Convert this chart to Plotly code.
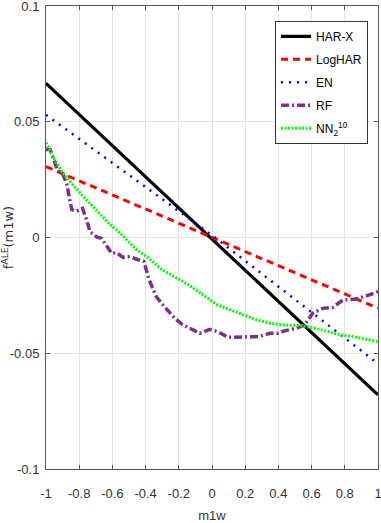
import plotly.graph_objects as go

# Dane
x_lin = [-1.0, 0.0, 1.0]
har_x = [0.0666, -0.0005, -0.068]
log_har = [0.0306, 0.0, -0.0305]
en = [0.053, 0.001, -0.0545]

x_rf = [-1.0, -0.975, -0.93, -0.9, -0.875, -0.845, -0.815, -0.78, -0.755, -0.735,
        -0.695, -0.665, -0.605, -0.575, -0.535, -0.495, -0.45, -0.41, -0.38, -0.335,
        -0.295, -0.255, -0.225, -0.18, -0.134, -0.074, -0.014, 0.036, 0.096, 0.186,
        0.287, 0.347, 0.397, 0.437, 0.508, 0.557, 0.607, 0.667, 0.728, 0.788,
        0.868, 0.948, 1.0]
rf = [0.038, 0.038, 0.029, 0.0277, 0.023, 0.012, 0.0114, 0.0126, 0.0076, 0.0025,
      0.0003, -0.0004, -0.0068, -0.0066, -0.0086, -0.0082, -0.0095, -0.0104, -0.018, -0.0256,
      -0.0292, -0.0327, -0.0349, -0.0375, -0.0392, -0.0414, -0.0397, -0.0407, -0.0431, -0.0428,
      -0.0428, -0.0414, -0.0414, -0.0403, -0.0392, -0.0378, -0.0327, -0.0306, -0.0302, -0.027,
      -0.0266, -0.0248, -0.0234]

x_nn = [-1.0, -0.95, -0.9, -0.84, -0.78, -0.7, -0.62, -0.54, -0.46, -0.38,
        -0.3, -0.2, -0.13, -0.05, 0.03, 0.1, 0.19, 0.27, 0.35, 0.43,
        0.53, 0.61, 0.69, 0.77, 0.85, 0.93, 1.0]
nn = [0.041, 0.034, 0.028, 0.023, 0.018, 0.012, 0.006, 0.001, -0.005, -0.009,
      -0.014, -0.018, -0.021, -0.025, -0.029, -0.031, -0.0335, -0.0356, -0.037, -0.0378,
      -0.038, -0.039, -0.0405, -0.042, -0.0428, -0.044, -0.045]

x_ticks = [-1, -0.8, -0.6, -0.4, -0.2, 0, 0.2, 0.4, 0.6, 0.8, 1]
x_labels = ['-1', '-0.8', '-0.6', '-0.4', '-0.2', '0', '0.2', '0.4', '0.6', '0.8', '1']
y_ticks = [-0.1, -0.05, 0, 0.05, 0.1]
y_labels = ['-0.1', '-0.05', '0', '0.05', '0.1']

font_fam = 'Liberation Sans, Arial, sans-serif'

fig = go.Figure()
fig.add_trace(go.Scatter(x=x_lin, y=har_x, mode='lines', name='HAR-X', legendgroup='a',
                         line=dict(color='black', width=3.2)))
fig.add_trace(go.Scatter(x=x_lin, y=log_har, mode='lines', name='LogHAR', legendgroup='b',
                         line=dict(color='#ff0000', width=3, dash='7px,5px')))
fig.add_trace(go.Scatter(x=x_lin, y=en, mode='lines', name='EN', legendgroup='c',
                         line=dict(color='#0000ff', width=2.5, dash='2px,6px')))
fig.add_trace(go.Scatter(x=x_rf, y=rf, mode='lines', name='RF', legendgroup='d',
                         line=dict(color='#7e2f8e', width=3.5, dash='8px,3px,2px,3px')))
fig.add_trace(go.Scatter(x=x_nn, y=nn, mode='lines', name='NN<sub>2</sub><sup>10</sup>',
                         legendgroup='e',
                         line=dict(color='#00ff00', width=3, dash='2px,1.5px')))

axis_common = dict(showline=True, linecolor='#555555', linewidth=1, mirror='ticks',
                   ticks='inside', ticklen=4, tickcolor='#555555', automargin=False,
                   ticklabeloverflow='allow',
                   showgrid=True, gridcolor='#e3e3e3', gridwidth=1, zeroline=False,
                   tickfont=dict(size=13, color='#333333', family=font_fam))

fig.update_xaxes(range=[-1, 1], tickvals=x_ticks, ticktext=x_labels,
                 ticklabelstandoff=12,
                 title=dict(text='m1w', font=dict(size=13, color='#333333', family=font_fam),
                            standoff=12),
                 **axis_common)
fig.update_yaxes(range=[-0.1, 0.1], tickvals=y_ticks, ticktext=y_labels,
                 ticklabelstandoff=3,
                 title=dict(text='f<sup>ALE</sup>(m1w)',
                            font=dict(size=13, color='#333333', family='DejaVu Sans'),
                            standoff=0),
                 **axis_common)

fig.update_layout(width=381, height=523,
                  margin=dict(l=46, r=3, t=6, b=54),
                  plot_bgcolor='white', paper_bgcolor='white',
                  showlegend=True,
                  legend=dict(x=0.97, y=0.968, xanchor='right', yanchor='top',
                              bgcolor='white', bordercolor='#333333', borderwidth=1,
                              traceorder='grouped', tracegroupgap=4,
                              font=dict(size=12, color='black', family=font_fam)))

fig.write_html("out.html", config={'displayModeBar': False},
               post_script="document.body.style.margin='0';")
